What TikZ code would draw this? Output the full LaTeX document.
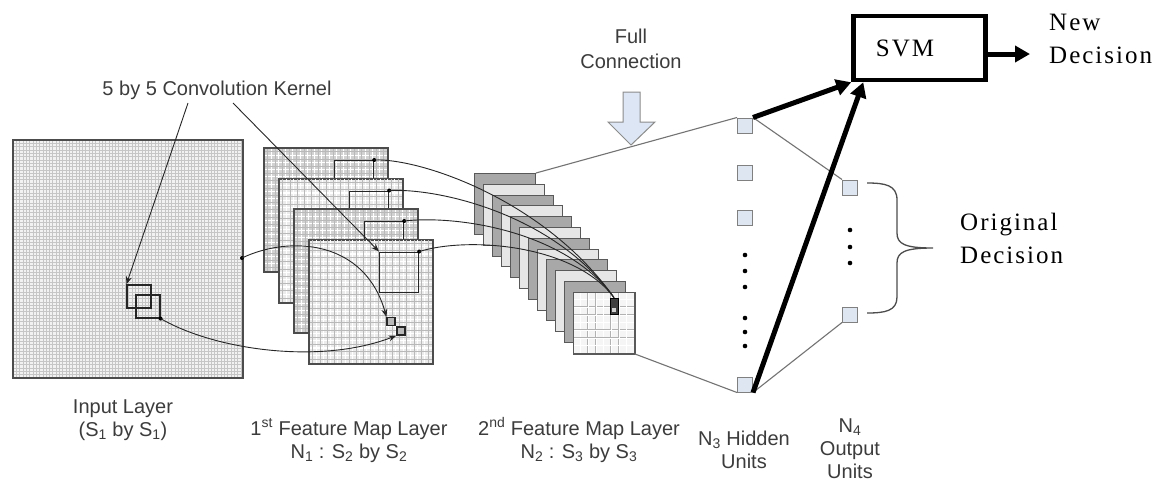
\documentclass[tikz,border=0pt]{standalone}
\usepackage{fontspec}
\newfontfamily\sanslabel{Liberation Sans}
\newfontfamily\seriflabel[LetterSpace=8]{Liberation Serif}
\usetikzlibrary{arrows.meta}

\definecolor{labelgray}{HTML}{3C3C3C}
\definecolor{mapdark}{HTML}{D2D2D2}
\definecolor{maplight}{HTML}{EBEBEB}
\definecolor{slabdark}{HTML}{A8A8A8}
\definecolor{slablight}{HTML}{E6E6E6}
\definecolor{unitblue}{HTML}{DDE6F1}
\definecolor{arrowblue}{HTML}{DCE6F4}

\begin{document}
\begin{tikzpicture}[x=1pt,y=-1pt,
  lbl/.style={font=\sanslabel\fontsize{20}{23}\selectfont, text=labelgray, inner sep=0pt, anchor=base},
  slbl/.style={font=\seriflabel\fontsize{25}{30}\selectfont, text=black, inner sep=0pt, anchor=base west},
  frame/.style={draw=black!70, line width=1.4pt, inner sep=0pt, anchor=north west},
  kern/.style={draw=black!85, line width=1.2pt, inner sep=0pt},
  tiny/.style={draw=black!85, fill=gray!55, line width=1.1pt, inner sep=0pt, minimum size=8pt},
  slab/.style={draw=black!65, line width=1pt, inner sep=0pt, minimum size=61pt, anchor=north west},
  unit/.style={draw=black!50, fill=unitblue, line width=1pt, inner sep=0pt, minimum size=15pt},
  conn/.style={black!85, line width=0.9pt},
  pointer/.style={conn, -{Stealth[length=8pt,width=6pt]}},
  link/.style={black!55, line width=1.1pt},
  bold/.style={black, line width=5pt, -{Triangle[length=15pt,width=16pt]}}]

\useasboundingbox (0,0) rectangle (1165,483);
\fill[white] (0,0) rectangle (1165,483);

% ---------- input layer ----------
\node[frame, fill=gray!10, minimum width=229pt, minimum height=237pt] (input) at (13,140) {};
\foreach \i in {1,...,69} \draw[gray!45, line width=0.35pt] ({13+3.3*\i},140) -- ++(0,237);
\foreach \i in {1,...,71} \draw[gray!45, line width=0.35pt] (13,{140+3.3*\i}) -- ++(229,0);
\draw[black!70, line width=1.4pt] (input.north west) rectangle (input.south east);
\node[kern, minimum width=24pt, minimum height=23pt] (k1) at (139,296.5) {};
\node[kern, minimum width=24pt, minimum height=23pt] (k2) at (148,306.5) {};
\coordinate (inedge) at (242,258);
\fill (inedge) circle (2pt);
\fill (k2.south east) circle (2pt);

% ---------- first feature map layer ----------
\foreach \k/\col in {0/mapdark,1/maplight,2/mapdark,3/maplight}{
  \node[frame, fill=\col, minimum size=123pt] (fm\k) at ({264+15*\k},{148+30.5*\k}) {};
  \foreach \i in {1,...,16}{
    \draw[white, line width=1.1pt] ({264+15*\k+7.235*\i},{148+30.5*\k}) -- ++(0,123);
    \draw[white, line width=1.1pt] ({264+15*\k},{148+30.5*\k+7.235*\i}) -- ++(123,0);
  }
  \foreach \i in {0,...,16}{
    \draw[gray!55, line width=0.4pt] ({264+15*\k+3.6+7.235*\i},{148+30.5*\k}) -- ++(0,123);
    \draw[gray!55, line width=0.4pt] ({264+15*\k},{148+30.5*\k+3.6+7.235*\i}) -- ++(123,0);
  }
  \draw[black!70, line width=1.4pt] (fm\k.north west) rectangle (fm\k.south east);
  \node[kern, minimum width=39pt, minimum height=40pt, anchor=north west] (kr\k) at ({334+15*\k},{160+30.5*\k}) {};
  \fill (kr\k.north east) circle (2pt);
}
\node[tiny] (d1) at (391,321.5) {};
\node[tiny] (d2) at (401,331) {};

\draw[pointer] (inedge) .. controls (290,235) and (365,240) .. (d1.north west);
\draw[pointer] (k2.south east) .. controls (215,350) and (320,365) .. (d2.south west);

% ---------- kernel label ----------
\node[lbl] (convlbl) at (217,95) {5 by 5 Convolution Kernel};
\draw[pointer] ([xshift=-29pt,yshift=-8pt]convlbl.base) -- (k1.north west);
\draw[pointer] ([xshift=16pt,yshift=-8pt]convlbl.base) -- (kr3.north west);

% ---------- second feature map layer ----------
\foreach \k/\col in {0/slabdark,1/slablight,2/slabdark,3/slablight,4/slabdark,5/slablight,6/slabdark,7/slablight,8/slabdark,9/slablight,10/slabdark}
  \node[slab, fill=\col] (sl\k) at ({474+9*\k},{173+10.8*\k}) {};
\node[slab, fill=gray!8] (sl11) at (573,292) {};
\foreach \i in {1,...,7}{
  \draw[gray!60, line width=1.6pt] ({573+7.625*\i},292) -- ++(0,61);
  \draw[gray!60, line width=1.6pt] (573,{292+7.625*\i}) -- ++(61,0);
  \draw[white, line width=0.5pt] ({573+7.625*\i},292) -- ++(0,61);
  \draw[white, line width=0.5pt] (573,{292+7.625*\i}) -- ++(61,0);
}
\draw[black!65, line width=1pt] (sl11.north west) rectangle (sl11.south east);
\node[draw=black, fill=black!75, line width=0.8pt, inner sep=0pt, minimum width=8pt, minimum height=16pt] (s2) at (614,306) {};
\node[fill=gray!35, inner sep=0pt, minimum size=4pt] (s2in) at (614,310) {};

\draw[conn] (kr0.north east) .. controls (420,158) and (545,200) .. (s2.north);
\draw[conn] (kr1.north east) .. controls (440,188) and (555,215) .. (s2.north);
\draw[conn] (kr2.north east) .. controls (455,215) and (565,230) .. (s2.north);
\draw[conn] (kr3.north east) .. controls (470,236) and (575,245) .. (s2.north);

% ---------- full connection ----------
\node[lbl] (fulllbl) at (631,43) {Full};
\node[lbl] (connlbl) at (631,68) {Connection};
\draw[fill=arrowblue, draw=black!45, line width=1pt] (623,92) -- (640,92) -- (640,122) -- (655,122) -- (631,145) -- (608,122) -- (623,122) -- cycle;

% ---------- hidden and output units ----------
\node[unit] (h1) at (745,125.5) {};
\node[unit] (h2) at (745,172.5) {};
\node[unit] (h3) at (745,217.5) {};
\node[unit] (hb) at (745,384.5) {};
\node[unit] (o1) at (850,187.5) {};
\node[unit] (ob) at (850,314.5) {};
\foreach \y in {255,271,287,318,332,346} \fill (745,\y) circle (2.3pt);
\foreach \y in {230,247,263} \fill (850,\y) circle (2.3pt);

\draw[link] (sl0.north east) -- (h1.north west);
\draw[link] (sl11.south east) -- (hb.south west);
\draw[link] (h1.north east) -- (o1.north west);
\draw[link] (hb.south east) -- (ob.south west);

% ---------- SVM ----------
\node[draw=black, line width=4.5pt, minimum width=132pt, minimum height=64pt, inner sep=0pt] (svm) at (919.5,48) {};
\node[slbl, anchor=base] (svmtxt) at (905,56) {SVM};
\draw[bold] (h1.north east) -- (svm.south west);
\draw[bold] (hb.south east) -- ([xshift=12pt]svm.south west);
\coordinate (newdec) at (1030,54);
\draw[bold] (svm.east |- newdec) -- (newdec);
\node[slbl] (new1) at (1049,30) {New};
\node[slbl] (new2) at (1049,63) {Decision};

% ---------- original decision brace ----------
\draw[black!70, line width=1.3pt] (867,183) .. controls (885,183) and (897,185) .. (897,200) -- (897,233)
  .. controls (897,244) and (905,248) .. (933,248)
  .. controls (905,248) and (897,252) .. (897,263) -- (897,297)
  .. controls (897,311) and (885,313) .. (867,313);
\node[slbl] (orig1) at (960,230) {Original};
\node[slbl] (orig2) at (960,263) {Decision};

% ---------- layer captions ----------
\node[lbl] (inlbl1) at (123,413) {Input Layer};
\node[lbl] (inlbl2) at (123,436) {(S\textsubscript{1} by S\textsubscript{1})};
\node[lbl] (f1lbl1) at (349,435) {1\textsuperscript{st} Feature Map Layer};
\node[lbl] (f1lbl2) at (349,458) {N\textsubscript{1} : S\textsubscript{2} by S\textsubscript{2}};
\node[lbl] (f2lbl1) at (579,435) {2\textsuperscript{nd} Feature Map Layer};
\node[lbl] (f2lbl2) at (579,458) {N\textsubscript{2} : S\textsubscript{3} by S\textsubscript{3}};
\node[lbl] (hlbl1) at (744,445) {N\textsubscript{3} Hidden};
\node[lbl] (hlbl2) at (744,468) {Units};
\node[lbl] (olbl1) at (850,432) {N\textsubscript{4}};
\node[lbl] (olbl2) at (850,455) {Output};
\node[lbl] (olbl3) at (850,478) {Units};
\end{tikzpicture}
\end{document}
